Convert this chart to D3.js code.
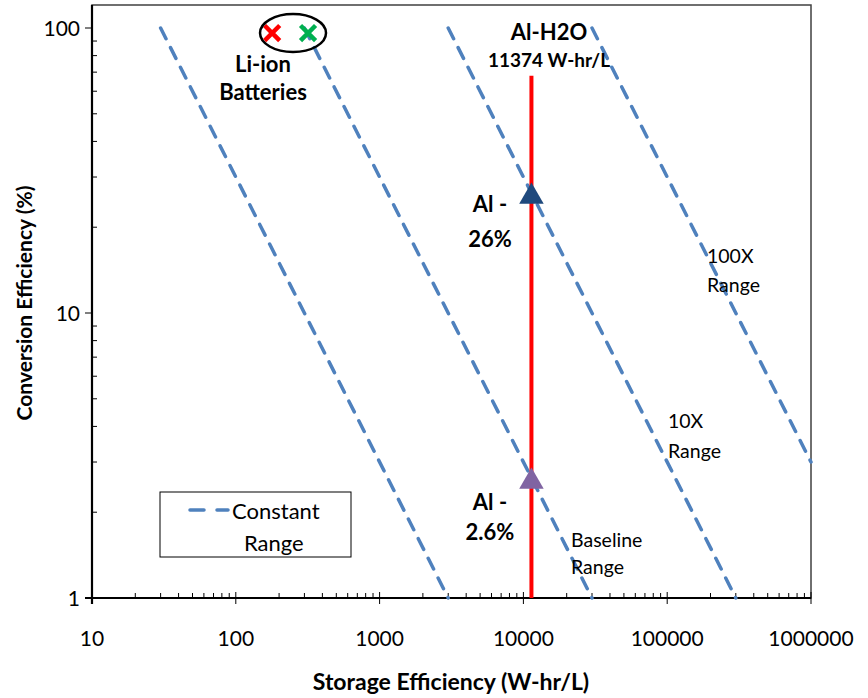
<!DOCTYPE html>
<html>
<head>
<meta charset="utf-8">
<script src="https://d3js.org/d3.v7.min.js"></script>
<style>
  body { margin: 0; background: #fff; }
  text { font-family: Lato, "Open Sans", sans-serif; fill: #000; }
</style>
</head>
<body>
<svg id="chart" width="868" height="698"></svg>
<script>
// constant-range lines (storage x conversion = const), start/end points
const rangeStartX = [30, 300, 3000, 30000];
const rangeStartY = [100, 100, 100, 100];
const rangeEndX = [3000, 30000, 300000, 1000000];
const rangeEndY = [1, 1, 1, 3];

// Li-ion battery markers
const liionX = [179, 318];
const liionY = [96, 96];
const liionColors = ["#ff0000", "#00b050"];

// Al-H2O
const alStorage = 11374;
const alLineTop = 68;
const alPointsY = [26, 2.6];
const alColors = ["#1f497d", "#8064a2"];

const xTicks = [10, 100, 1000, 10000, 100000, 1000000];
const yTicks = [1, 10, 100];

const svg = d3.select("#chart");
const plotL = 92, plotR = 811, plotB = 598, plotT = 5;

const x = d3.scaleLog().domain([10, 1000000]).range([plotL, plotR]);
const y = d3.scaleLog().domain([1, 100]).range([plotB, 28]);

// plot area border
svg.append("rect")
  .attr("x", plotL).attr("y", plotT)
  .attr("width", plotR - plotL).attr("height", plotB - plotT)
  .attr("fill", "none").attr("stroke", "#404040").attr("stroke-width", 1.5);

// minor ticks
const xMinor = [];
for (let d = 10; d < 1000000; d *= 10) for (let k = 2; k <= 9; k++) xMinor.push(d * k);
const yMinor = [];
for (let d = 1; d <= 100; d *= 10) for (let k = 2; k <= 9; k++) yMinor.push(d * k);

svg.append("g").selectAll("line").data(xMinor).join("line")
  .attr("x1", d => x(d)).attr("x2", d => x(d))
  .attr("y1", plotB).attr("y2", plotB - 5)
  .attr("stroke", "#000").attr("stroke-width", 1);

svg.append("g").selectAll("line").data(yMinor.filter(v => y(v) > plotT)).join("line")
  .attr("x1", plotL).attr("x2", plotL + 5)
  .attr("y1", d => y(d)).attr("y2", d => y(d))
  .attr("stroke", "#000").attr("stroke-width", 1);

// major ticks
svg.append("g").selectAll("line").data(xTicks).join("line")
  .attr("x1", d => x(d)).attr("x2", d => x(d))
  .attr("y1", plotB - 6).attr("y2", plotB + 6)
  .attr("stroke", "#000").attr("stroke-width", 1);
svg.append("g").selectAll("line").data(yTicks).join("line")
  .attr("x1", plotL - 7).attr("x2", plotL + 1)
  .attr("y1", d => y(d)).attr("y2", d => y(d))
  .attr("stroke", "#000").attr("stroke-width", 1);

// axis lines
svg.append("line").attr("x1", plotL).attr("x2", plotL).attr("y1", plotT).attr("y2", plotB + 6)
  .attr("stroke", "#000").attr("stroke-width", 2.2);
svg.append("line").attr("x1", plotL - 7).attr("x2", plotR).attr("y1", plotB).attr("y2", plotB)
  .attr("stroke", "#000").attr("stroke-width", 2.2);

// tick labels
svg.append("g").selectAll("text").data(xTicks).join("text")
  .attr("x", d => x(d)).attr("y", 646)
  .attr("text-anchor", "middle").attr("font-size", 21)
  .text(d => d3.format("d")(d));
svg.append("g").selectAll("text").data(yTicks).join("text")
  .attr("x", 80).attr("y", d => y(d) + 8)
  .attr("text-anchor", "end").attr("font-size", 21)
  .text(d => d);

// axis titles
svg.append("text").attr("x", 451).attr("y", 690)
  .attr("text-anchor", "middle").attr("font-size", 23).attr("font-weight", "bold")
  .text("Storage Efficiency (W-hr/L)");
svg.append("text").attr("transform", "translate(32,303) rotate(-90)")
  .attr("text-anchor", "middle").attr("font-size", 21).attr("font-weight", "bold")
  .text("Conversion Efficiency (%)");

// constant range dashed lines
const ranges = rangeStartX.map((d, i) => [[d, rangeStartY[i]], [rangeEndX[i], rangeEndY[i]]]);
const line = d3.line().x(d => x(d[0])).y(d => y(d[1]));
svg.append("g").selectAll("path").data(ranges).join("path")
  .attr("d", line)
  .attr("fill", "none").attr("stroke", "#4f81bd").attr("stroke-width", 3.5)
  .attr("stroke-dasharray", "12,10").attr("stroke-linecap", "round");

// Al-H2O vertical line
svg.append("line")
  .attr("x1", x(alStorage)).attr("x2", x(alStorage))
  .attr("y1", y(1)).attr("y2", y(alLineTop))
  .attr("stroke", "#ff0000").attr("stroke-width", 4);

// triangles
const tri = d3.symbol().type(d3.symbolTriangle).size(260);
svg.append("g").selectAll("path").data(alPointsY).join("path")
  .attr("d", tri)
  .attr("transform", d => `translate(${x(alStorage)},${y(d) + 2})`)
  .attr("fill", (d, i) => alColors[i]);

// Li-ion crosses
const cross = d3.symbol().type(d3.symbolX).size(150);
svg.append("g").selectAll("path").data(liionX).join("path")
  .attr("d", cross)
  .attr("transform", (d, i) => `translate(${x(d)},${y(liionY[i])})`)
  .attr("fill", "none").attr("stroke", (d, i) => liionColors[i]).attr("stroke-width", 4.5);

svg.append("ellipse")
  .attr("cx", x(250)).attr("cy", y(96))
  .attr("rx", 33).attr("ry", 19)
  .attr("fill", "none").attr("stroke", "#000").attr("stroke-width", 2.5);

// annotations
function label(lines, xp, yp, size, weight, anchor, lh) {
  const t = svg.append("text").attr("font-size", size).attr("font-weight", weight)
    .attr("text-anchor", anchor);
  lines.forEach((s, i) => t.append("tspan").attr("x", xp).attr("y", yp + i * lh).text(s));
}
label(["Li-ion", "Batteries"], 263, 72, 22, "bold", "middle", 28);
label(["Al-H2O"], 549, 40, 22, "bold", "middle", 0);
label(["11374 W-hr/L"], 549, 67, 19, "bold", "middle", 0);
label(["Al -", "26%"], 490, 212, 22, "bold", "middle", 35);
label(["Al -", "2.6%"], 490, 510, 22, "bold", "middle", 30);
label(["Baseline", "Range"], 571, 547, 19.5, "normal", "start", 27);
label(["10X", "Range"], 668, 428, 19.5, "normal", "start", 30);
label(["100X", "Range"], 707, 263, 19.5, "normal", "start", 29);

// legend
svg.append("rect").attr("x", 160).attr("y", 492).attr("width", 191).attr("height", 65)
  .attr("fill", "#fff").attr("stroke", "#000").attr("stroke-width", 1);
svg.append("line").attr("x1", 190).attr("x2", 228).attr("y1", 510).attr("y2", 510)
  .attr("stroke", "#4f81bd").attr("stroke-width", 3.5)
  .attr("stroke-dasharray", "14,13").attr("stroke-linecap", "round");
label(["Constant"], 232, 519, 22, "normal", "start", 0);
label(["Range"], 244, 551, 22, "normal", "start", 0);
</script>
</body>
</html>
